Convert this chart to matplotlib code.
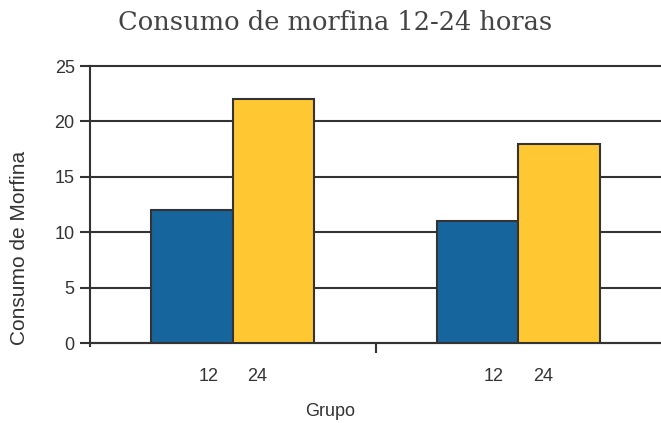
import numpy as np
import matplotlib
matplotlib.use("Agg")
from matplotlib import pyplot as plt

# data
grupos = ['A', 'B']
horas = ['12', '24']
valores_12 = [12, 11]
valores_24 = [22, 18]
yticks = [0, 5, 10, 15, 20, 25]

azul = '#17659d'
amarillo = '#ffc833'
gris = '#333333'

plt.rcParams['font.family'] = ['Liberation Sans', 'DejaVu Sans']

fig = plt.figure(figsize=(6.61, 4.23), dpi=100)
ax = fig.add_axes([90/661, 1 - 343/423, 1 - 90/661, (343 - 66)/423])

x = np.arange(len(grupos))
w = 0.285
ax.bar(x - w/2, valores_12, w, color=azul, edgecolor=gris, linewidth=1.5, zorder=3)
ax.bar(x + w/2, valores_24, w, color=amarillo, edgecolor=gris, linewidth=1.5, zorder=3)

ax.set_xlim(-0.5, 1.5)
ax.set_ylim(0, 25)
ax.set_yticks(yticks)
ax.set_yticklabels([str(v) for v in yticks], fontsize=13, color=gris)
ax.yaxis.grid(True, color=gris, linewidth=1.5, zorder=0)
for gl in ax.get_ygridlines():
    gl.set_clip_on(False)
ax.set_xticks([0.5])
ax.set_xticklabels([''])
ax.tick_params(axis='x', length=7, width=1.5, color=gris)
ax.tick_params(axis='y', length=7, width=1.5, color=gris, pad=4)

for s in ['top', 'right']:
    ax.spines[s].set_visible(False)
for s in ['left', 'bottom']:
    ax.spines[s].set_color(gris)
    ax.spines[s].set_linewidth(1.5)
ax.spines['left'].set_bounds(-0.3, 25)

# labels under each bar
for i in x:
    for off, lab in zip([-w/2, w/2], horas):
        ax.text(i + off*0.6, -3.0, lab, ha='center', va='center', fontsize=13, color=gris)

fig.text(330/661, 1 - 411/423, 'Grupo', ha='center', va='center', fontsize=13, color=gris)
fig.text(20/661, 1 - 248/423, 'Consumo de Morfina', ha='center', va='center',
         rotation=90, fontsize=15, color=gris)
fig.text(335/661, 1 - 22/423, 'Consumo de morfina 12-24 horas', ha='center', va='center',
         fontsize=18.5, color='#444444', family='DejaVu Serif')

plt.savefig('out.png', dpi=100)
